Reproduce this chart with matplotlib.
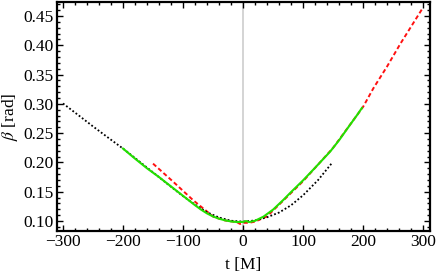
"""Orbital inclination beta(t) comparison: three evolution curves around merger."""
import matplotlib
matplotlib.use("Agg")
import matplotlib.pyplot as plt
from matplotlib.ticker import MultipleLocator, FormatStrFormatter

# ── data ─────────────────────────────────────────────────────────────────────
black_t = [-300, -275, -250, -225, -200, -175, -150, -125, -100, -80, -60, -40,
           -20, 0, 20, 40, 60, 80, 100, 125, 148]
black_beta = [0.3007, 0.2812, 0.2615, 0.2425, 0.2237, 0.2035, 0.1830, 0.1625,
              0.1425, 0.1280, 0.1150, 0.1060, 0.1005, 0.0990, 0.1010, 0.1065,
              0.1145, 0.1270, 0.1440, 0.1700, 0.1990]

green_t = [-200, -180, -160, -140, -120, -100, -80, -70, -60, -50, -40, -30,
           -20, -10, 0, 5, 10, 20, 34, 50, 67, 80, 100, 120, 145, 160, 178,
           190, 198]
green_beta = [0.2237, 0.2065, 0.1900, 0.1750, 0.1590, 0.1430, 0.1270, 0.1195,
              0.1130, 0.1078, 0.1040, 0.1012, 0.0993, 0.0983, 0.0985, 0.1000,
              0.0982, 0.1005, 0.1075, 0.1195, 0.1360, 0.1495, 0.1695, 0.1910,
              0.2185, 0.2380, 0.2640, 0.2810, 0.2930]

red_t = [-150, -116, -83, -49, -30, -10, -5, 0, 10, 20, 40, 60, 80, 100, 150,
         200, 217, 240, 262, 280, 298]
red_beta = [0.198, 0.1667, 0.1354, 0.107, 0.101, 0.098, 0.095, 0.097, 0.097,
            0.099, 0.108, 0.128, 0.148, 0.168, 0.225, 0.295, 0.3265, 0.364,
            0.4026, 0.432, 0.4615]

x_major = 100
y_major = 0.05

plt.rcParams["font.family"] = ["Liberation Serif", "DejaVu Serif"]
plt.rcParams["mathtext.fontset"] = "stix"

fig = plt.figure(figsize=(4.36, 2.75), dpi=100)
ax = fig.add_axes([0.1307, 0.16, 0.855, 0.833])

ax.axvline(0, color="#d4d4d4", lw=1.4, zorder=1)
ax.plot(red_t, red_beta, color="#ff1010", lw=1.4, ls=(0, (2.2, 1.4)), zorder=2)
ax.plot(black_t, black_beta, color="black", lw=1.3, ls=(0, (1, 1.2)), zorder=3)
ax.plot(green_t, green_beta, color="#22e000", lw=1.5, zorder=4)

ax.set_xlim(-310, 311)
ax.set_ylim(0.083, 0.474)

ax.xaxis.set_major_locator(MultipleLocator(x_major))
ax.xaxis.set_minor_locator(MultipleLocator(20))
ax.yaxis.set_major_locator(MultipleLocator(y_major))
ax.yaxis.set_minor_locator(MultipleLocator(0.01))
ax.yaxis.set_major_formatter(FormatStrFormatter("%.2f"))

ax.tick_params(which="both", direction="in", top=True, right=True,
               labelsize=12.5, width=1.0)
ax.tick_params(axis="y", pad=2.5)
ax.tick_params(axis="x", pad=2)
ax.tick_params(which="major", length=4.5)
ax.tick_params(which="minor", length=2.5)
for sp in ax.spines.values():
    sp.set_linewidth(1.6)

ax.set_xlabel("t [M]", fontsize=12.5, labelpad=5)
ax.set_ylabel(r"$\beta$ [rad]", fontsize=12.5, labelpad=2)

fig.savefig("out.png", dpi=100)
